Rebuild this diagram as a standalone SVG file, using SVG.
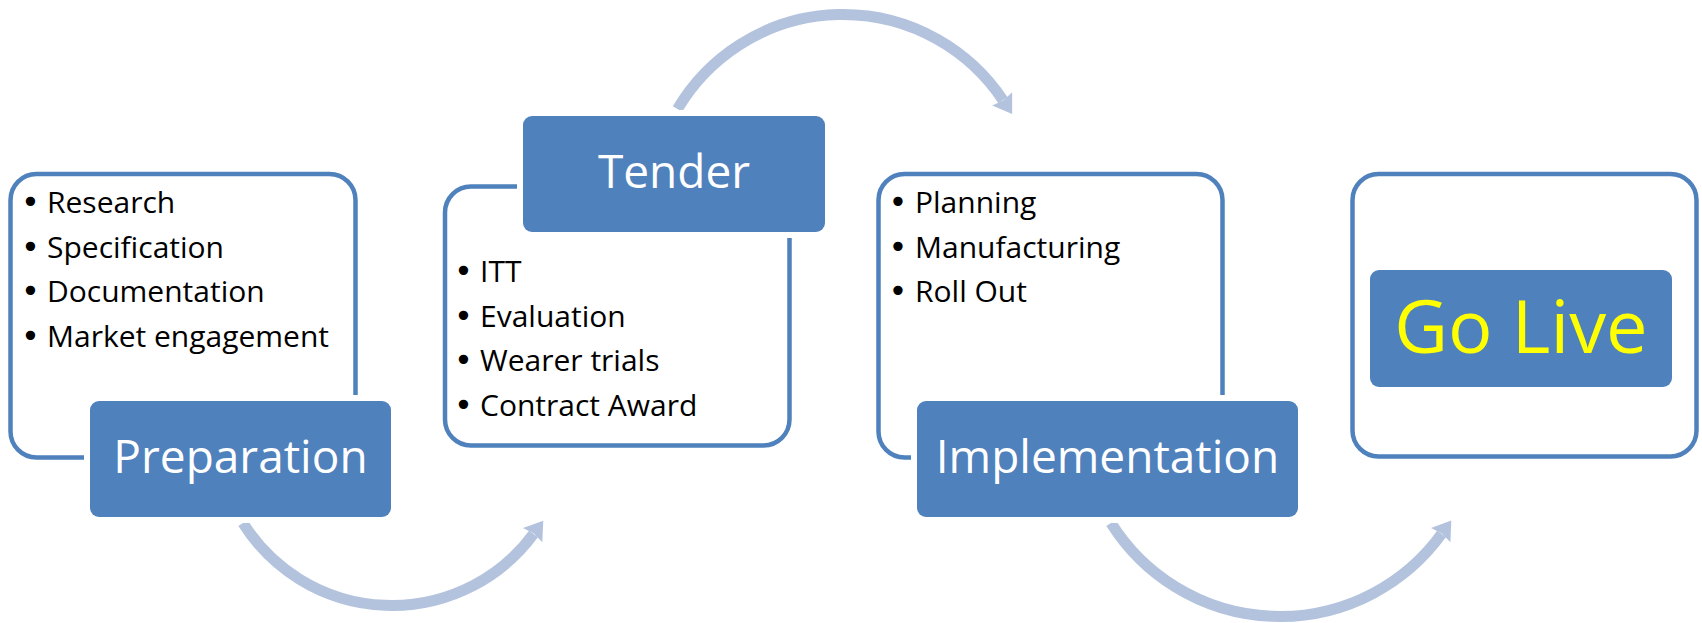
<svg xmlns="http://www.w3.org/2000/svg" width="1702" height="623" viewBox="0 0 1702 623">
<style>
.frame{fill:#FFFFFF;stroke:#4F81BD;stroke-width:4.5}
.head{fill:#4F81BD;stroke:#FFFFFF;stroke-width:12;paint-order:stroke}
.title{font-family:"Open Sans","Liberation Sans",sans-serif;fill:#FFFFFF;font-size:46px;text-anchor:middle}
.item{font-family:"Open Sans","Liberation Sans",sans-serif;fill:#000000;font-size:30px}
.dot{font-family:"DejaVu Sans",sans-serif;font-size:32px}
.arc{fill:none;stroke:#B3C3DE;stroke-width:11}
</style>
<defs>
<marker id="ah" markerUnits="userSpaceOnUse" markerWidth="22" markerHeight="28" viewBox="-1 -14 22 28" refX="1.5" refY="0" orient="auto">
<path d="M0,-12 L18,0 L0,12 L2,0 Z" fill="#B3C3DE"/>
</marker>
</defs>
<rect width="1702" height="623" fill="#FFFFFF"/>
<g id="connectors">
<path class="arc" d="M243,523 A175.8,175.8 0 0 0 533.5,534" marker-end="url(#ah)"/>
<path class="arc" d="M677.5,109 A192.2,192.2 0 0 1 1003,100.2" marker-end="url(#ah)"/>
<path class="arc" d="M1111,523 A199.5,199.5 0 0 0 1441.6,533.9" marker-end="url(#ah)"/>
</g>
<g id="preparation">
<rect class="frame" x="10.5" y="174" width="345" height="283.5" rx="26"/>
<text class="item" x="21" y="213"><tspan class="dot">•</tspan><tspan x="47">Research</tspan></text>
<text class="item" x="21" y="257.7"><tspan class="dot">•</tspan><tspan x="47">Specification</tspan></text>
<text class="item" x="21" y="302.3"><tspan class="dot">•</tspan><tspan x="47">Documentation</tspan></text>
<text class="item" x="21" y="347"><tspan class="dot">•</tspan><tspan x="47">Market engagement</tspan></text>
<rect class="head" x="90" y="401" width="301" height="116" rx="9"/>
<text class="title" x="240.5" y="473">Preparation</text>
</g>
<g id="tender">
<rect class="frame" x="445" y="186.5" width="344.5" height="259" rx="26"/>
<text class="item" x="454" y="282"><tspan class="dot">•</tspan><tspan x="480">ITT</tspan></text>
<text class="item" x="454" y="326.5"><tspan class="dot">•</tspan><tspan x="480">Evaluation</tspan></text>
<text class="item" x="454" y="371"><tspan class="dot">•</tspan><tspan x="480">Wearer trials</tspan></text>
<text class="item" x="454" y="415.5"><tspan class="dot">•</tspan><tspan x="480">Contract Award</tspan></text>
<rect class="head" x="523" y="116" width="302" height="116" rx="9"/>
<text class="title" x="674" y="188">Tender</text>
</g>
<g id="implementation">
<rect class="frame" x="878.5" y="174" width="344" height="283.5" rx="26"/>
<text class="item" x="888.5" y="213"><tspan class="dot">•</tspan><tspan x="915">Planning</tspan></text>
<text class="item" x="888.5" y="257.7"><tspan class="dot">•</tspan><tspan x="915">Manufacturing</tspan></text>
<text class="item" x="888.5" y="302.3"><tspan class="dot">•</tspan><tspan x="915">Roll Out</tspan></text>
<rect class="head" x="917" y="401" width="381" height="116" rx="9"/>
<text class="title" x="1107.5" y="473">Implementation</text>
</g>
<g id="golive">
<rect class="frame" x="1352.5" y="174" width="344" height="282.5" rx="26"/>
<rect class="head" x="1370" y="270" width="302" height="117" rx="9" style="stroke:none"/>
<text class="title" x="1521" y="353" style="fill:#FFFF00;font-size:74px">Go Live</text>
</g>
</svg>
